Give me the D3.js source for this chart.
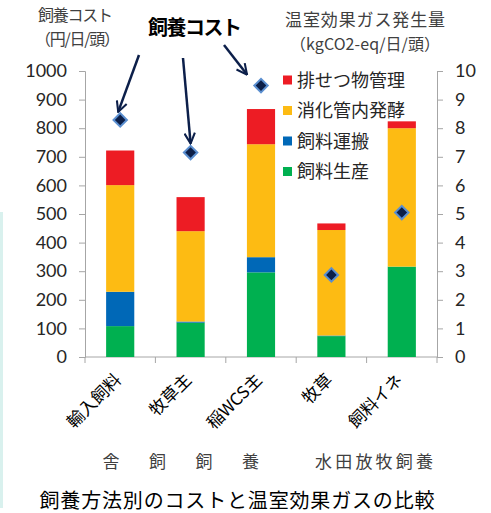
<!DOCTYPE html>
<html>
<head>
<meta charset="utf-8">
<script src="https://cdn.jsdelivr.net/npm/d3@7"></script>
<style>
  body { margin: 0; background: #fff; }
  text { font-family: "Noto Sans CJK JP", "Noto Sans", sans-serif; }
  .num { font-family: Lato, "Liberation Sans", sans-serif; }
</style>
</head>
<body>
<div id="chart"></div>
<script>
// frame
const FRAME_WIDTH = 491;
const FRAME_HEIGHT = 513;
const PLOT = {left: 85, right: 437, top: 71, bottom: 357};

// data
const categories = ["輸入飼料", "牧草主", "稲WCS主", "牧草", "飼料イネ"];
const feedProduction = [1.08, 1.20, 2.96, 0.73, 3.16];
const feedTransport = [1.20, 0.04, 0.53, 0.02, 0.00];
const entericFermentation = [3.73, 3.16, 3.95, 3.69, 4.84];
const manureManagement = [1.21, 1.19, 1.23, 0.23, 0.24];
const feedingCost = [829, 715, 949, 287, 505];
const costTicks = [0, 100, 200, 300, 400, 500, 600, 700, 800, 900, 1000];
const ghgTicks = [0, 1, 2, 3, 4, 5, 6, 7, 8, 9, 10];

const seriesNames = ["飼料生産", "飼料運搬", "消化管内発酵", "排せつ物管理"];
const seriesColors = ["#00b050", "#0068b7", "#fdbb13", "#ed1c24"];

const rows = categories.map((c, i) => ({
  cat: c,
  "飼料生産": feedProduction[i],
  "飼料運搬": feedTransport[i],
  "消化管内発酵": entericFermentation[i],
  "排せつ物管理": manureManagement[i]
}));

const svg = d3.select("#chart")
  .append("svg")
  .attr("width", FRAME_WIDTH)
  .attr("height", FRAME_HEIGHT);

// faint strip on the left edge
svg.append("rect")
  .attr("x", 0).attr("y", 212).attr("width", 3).attr("height", 296)
  .attr("fill", "#d9f1ee");

// scales
const X = d3.scaleBand()
  .domain(categories)
  .range([PLOT.left, PLOT.right])
  .paddingInner(0.6)
  .paddingOuter(0.3);

const Y_COST = d3.scaleLinear().domain([0, 1000]).range([PLOT.bottom, PLOT.top]);
const Y_GHG = d3.scaleLinear().domain([0, 10]).range([PLOT.bottom, PLOT.top]);

// axes
const axisColor = "#a6a6a6";
const leftAxis = svg.append("g")
  .attr("transform", `translate(${PLOT.left},0)`)
  .call(d3.axisLeft(Y_COST).tickValues(costTicks).tickFormat(d3.format("d")).tickSize(6).tickPadding(12));
const rightAxis = svg.append("g")
  .attr("transform", `translate(${PLOT.right},0)`)
  .call(d3.axisRight(Y_GHG).tickValues(ghgTicks).tickFormat(d3.format("d")).tickSize(6).tickPadding(12));
[leftAxis, rightAxis].forEach(g => {
  g.select(".domain").attr("stroke", axisColor);
  g.selectAll(".tick line").attr("stroke", axisColor);
  g.selectAll(".tick text")
    .attr("class", "num")
    .attr("fill", "#262626")
    .style("font-size", "18px");
});

// bottom axis with ticks at band edges
const bottom = svg.append("g");
bottom.append("line")
  .attr("x1", PLOT.left).attr("x2", PLOT.right)
  .attr("y1", PLOT.bottom).attr("y2", PLOT.bottom)
  .attr("stroke", axisColor);
const edges = [PLOT.left].concat(categories.map(c => X(c) + X.bandwidth() / 2 + X.step() / 2));
bottom.selectAll("line.edge")
  .data(edges)
  .enter()
  .append("line")
  .attr("class", "edge")
  .attr("x1", d => d).attr("x2", d => d)
  .attr("y1", PLOT.bottom).attr("y2", PLOT.bottom + 6)
  .attr("stroke", axisColor);

// stacked bars
const stack = d3.stack().keys(seriesNames)(rows);
svg.selectAll("g.layer")
  .data(stack)
  .enter()
  .append("g")
  .attr("class", "layer")
  .attr("fill", (d, i) => seriesColors[i])
  .selectAll("rect")
  .data(d => d)
  .enter()
  .append("rect")
  .attr("x", d => X(d.data.cat))
  .attr("width", X.bandwidth())
  .attr("y", d => Y_GHG(d[1]))
  .attr("height", d => Y_GHG(d[0]) - Y_GHG(d[1]));

// category labels, rotated
svg.selectAll("text.cat")
  .data(categories)
  .enter()
  .append("text")
  .attr("class", "cat")
  .attr("transform", d => `translate(${X(d) + X.bandwidth() / 2 + 2},${PLOT.bottom + 24}) rotate(-45)`)
  .attr("text-anchor", "end")
  .attr("fill", "#000")
  .style("font-size", "17px")
  .text(d => d);

// arrows from the title to the diamonds
const defs = svg.append("defs");
defs.append("marker")
  .attr("id", "head")
  .attr("viewBox", "0 0 12 12")
  .attr("refX", 11).attr("refY", 6)
  .attr("markerWidth", 5).attr("markerHeight", 5)
  .attr("markerUnits", "strokeWidth")
  .attr("orient", "auto")
  .append("path")
  .attr("d", "M1,1 L11,6 L1,11")
  .attr("fill", "none")
  .attr("stroke", "#0c1f4a")
  .attr("stroke-width", 2);

const arrowStarts = [[139, 55], [183, 58], [224, 45]];
const arrowOffsets = [[-2, -8], [0, -9], [-14, -11]];
arrowStarts.forEach((s, i) => {
  const cx = X(categories[i]) + X.bandwidth() / 2;
  const cy = Y_COST(feedingCost[i]);
  svg.append("line")
    .attr("x1", s[0]).attr("y1", s[1])
    .attr("x2", cx + arrowOffsets[i][0]).attr("y2", cy + arrowOffsets[i][1])
    .attr("stroke", "#0c1f4a")
    .attr("stroke-width", 2.5)
    .attr("marker-end", "url(#head)");
});

// diamonds for feeding cost
svg.selectAll("path.cost")
  .data(feedingCost)
  .enter()
  .append("path")
  .attr("class", "cost")
  .attr("d", d3.symbol().type(d3.symbolSquare).size(90))
  .attr("transform", (d, i) => `translate(${X(categories[i]) + X.bandwidth() / 2},${Y_COST(d)}) rotate(45)`)
  .attr("fill", "#0c1f48")
  .attr("stroke", "#5b8fd0")
  .attr("stroke-width", 2);

// legend (top to bottom reversed order)
const legendItems = seriesNames.slice().reverse();
const legendColors = seriesColors.slice().reverse();
const legend = svg.selectAll("g.legend")
  .data(legendItems)
  .enter()
  .append("g")
  .attr("class", "legend")
  .attr("transform", (d, i) => `translate(283,${80 + i * 30.5})`);
legend.append("rect")
  .attr("x", 0).attr("y", -4.5)
  .attr("width", 9).attr("height", 9)
  .attr("fill", (d, i) => legendColors[i]);
legend.append("text")
  .attr("x", 14).attr("y", 6.5)
  .attr("fill", "#262626")
  .style("font-size", "18px")
  .text(d => d);

// axis titles
svg.append("text").attr("x", 38).attr("y", 21)
  .attr("fill", "#404040").style("font-size", "16px")
  .attr("textLength", 75).text("飼養コスト");
svg.append("text").attr("x", 35).attr("y", 45)
  .attr("fill", "#404040").style("font-size", "16px")
  .attr("textLength", 85).text("（円/日/頭）");
svg.append("text").attr("x", 285).attr("y", 26)
  .attr("fill", "#404040").style("font-size", "17px")
  .attr("textLength", 160).text("温室効果ガス発生量");
svg.append("text").attr("x", 290).attr("y", 50)
  .attr("fill", "#404040").style("font-size", "16px")
  .attr("textLength", 150).text("（kgCO2-eq/日/頭）");

// "飼養コスト" callout
svg.append("text").attr("x", 148).attr("y", 35)
  .attr("fill", "#000").style("font-size", "20px").style("font-weight", "bold")
  .attr("textLength", 94)
  .text("飼養コスト");

// group labels
const groupChars = ["舎", "飼", "飼", "養"];
svg.selectAll("text.grp")
  .data(groupChars)
  .enter()
  .append("text")
  .attr("class", "grp")
  .attr("x", (d, i) => 111 + i * 46.5)
  .attr("y", 468)
  .attr("text-anchor", "middle")
  .attr("fill", "#404040")
  .style("font-size", "17px")
  .text(d => d);
svg.append("text").attr("x", 374).attr("y", 468)
  .attr("text-anchor", "middle")
  .attr("fill", "#404040").style("font-size", "17px")
  .attr("textLength", 118)
  .text("水田放牧飼養");

// chart title
svg.append("text").attr("x", 237).attr("y", 508)
  .attr("text-anchor", "middle")
  .attr("fill", "#000").style("font-size", "20px")
  .attr("textLength", 395)
  .text("飼養方法別のコストと温室効果ガスの比較");
</script>
</body>
</html>
